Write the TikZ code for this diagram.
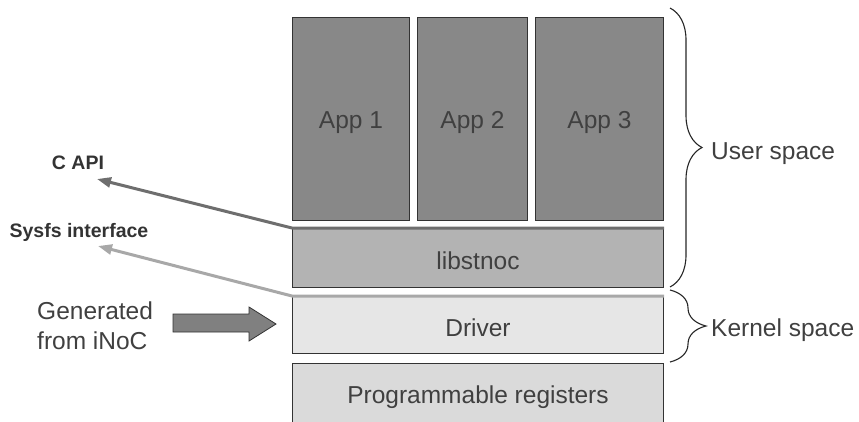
\documentclass[tikz,border=0pt]{standalone}
\usepackage{fontspec}
\setmainfont{Liberation Sans}
\usetikzlibrary{decorations.pathreplacing,arrows.meta}

\definecolor{appfill}{HTML}{888888}
\definecolor{libfill}{HTML}{B3B3B3}
\definecolor{drvfill}{HTML}{E6E6E6}
\definecolor{regfill}{HTML}{DADADA}
\definecolor{txt}{HTML}{404040}
\definecolor{apiline}{HTML}{6E6E6E}
\definecolor{sysline}{HTML}{A8A8A8}
\definecolor{bigarrow}{HTML}{808080}

\begin{document}
\begin{tikzpicture}[x=1pt,y=-1pt,
  layerbox/.style={draw=black!80, line width=1pt, text=txt, anchor=north west,
    inner sep=0pt, font=\fontsize{24.5}{29}\selectfont, text depth=0pt},
  bigtext/.style={text=txt, inner sep=0pt, font=\fontsize{24.5}{30}\selectfont},
  ifacetext/.style={text=black!80, inner sep=0pt, font=\fontsize{19.5}{23}\bfseries\selectfont},
  ifacearrow/.style={line width=3pt, -{Triangle[length=14pt,width=10pt]}},
  spacebrace/.style={decorate, line width=1.1pt, draw=black!85}
]
\useasboundingbox (0,0) rectangle (859,421);
\clip (0,0) rectangle (859,421);

% applications
\node[layerbox, fill=appfill, minimum width=117pt, minimum height=203pt, text height=19pt] (app1) at (292,17) {App 1};
\node[layerbox, fill=appfill, minimum width=110pt, minimum height=203pt, text height=19pt] (app2) at (417,17) {App 2};
\node[layerbox, fill=appfill, minimum width=128pt, minimum height=203pt, text height=19pt] (app3) at (535,17) {App 3};

% library, driver and hardware layers
\node[layerbox, fill=libfill, minimum width=371pt, minimum height=59pt, text height=23pt] (lib) at (292,228) {libstnoc};
\node[layerbox, fill=drvfill, minimum width=371pt, minimum height=57pt, text height=23pt] (drv) at (292,296) {Driver};
\node[layerbox, fill=regfill, minimum width=371pt, minimum height=62pt, text height=17.5pt] (regs) at (292,363) {Programmable registers};

% exported interfaces
\node[ifacetext, anchor=base] (capi) at (78,169) {C API};
\node[ifacetext, anchor=base] (sysfs) at (79,237) {Sysfs interface};
\coordinate (capitip) at (97,179);
\coordinate (sysfstip) at (98,246);

\draw[ifacearrow, apiline] (lib.north east) -- (lib.north west) -- (capitip);
\draw[ifacearrow, sysline] (drv.north east) -- (drv.north west) -- (sysfstip);

% generated driver
\node[bigtext, align=left, anchor=west] (gen) at (37,326) {Generated\\from iNoC};
\draw[fill=bigarrow, draw=black!80, line width=0.8pt]
  (173,314) -- (249,314) -- (249,307) -- (276,324) -- (249,341) -- (249,332) -- (173,332) -- cycle;

% address space braces
\coordinate (ustop) at (670,8);
\coordinate (usbot) at (670,287);
\coordinate (kstop) at (670,290);
\coordinate (ksbot) at (670,362);
\draw[spacebrace, decoration={brace, amplitude=32pt}] (ustop) -- (usbot);
\draw[spacebrace, decoration={brace, amplitude=36pt}] (kstop) -- (ksbot);
\node[bigtext, anchor=base west] (user) at (711,159) {User space};
\node[bigtext, anchor=base west] (kernel) at (711,336) {Kernel space};
\end{tikzpicture}
\end{document}
